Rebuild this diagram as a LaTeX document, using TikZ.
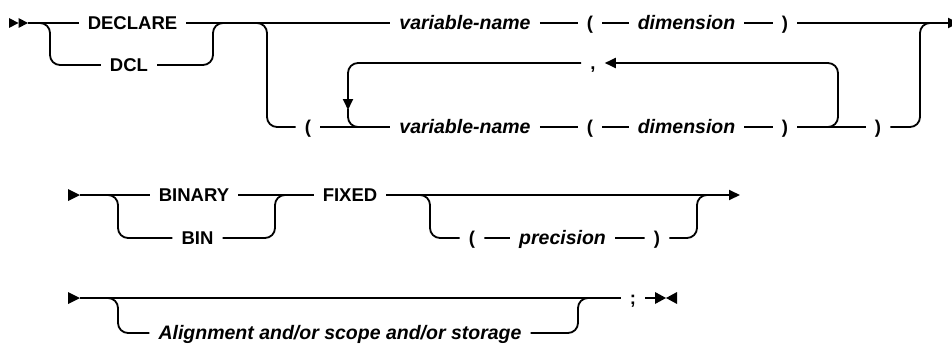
\documentclass[tikz,border=0pt]{standalone}
\usepackage{fontspec}
\setmainfont{Liberation Sans}
\usepackage{tikz}
\usetikzlibrary{arrows.meta}

\begin{document}
\begin{tikzpicture}[
    x=1pt, y=-1pt,
    rail/.style={line width=1.8pt, rounded corners=10pt},
    kw/.style={font=\bfseries\fontsize{18.5}{22}\selectfont, inner xsep=9pt, inner ysep=0pt, text height=13pt, text depth=0pt},
    var/.style={kw, font=\bfseries\itshape\fontsize{19.5}{23}\selectfont},
    arr/.style={-{Triangle[length=11pt, width=10pt]}}
]
    \clip (0,0) rectangle (952,345);

    % row 1: DECLARE / DCL and the variable list
    \fill (9,18) -- (18.5,23) -- (9,28) -- cycle;
    \fill (18.5,18) -- (28,23) -- (18.5,28) -- cycle;
    \coordinate (in1) at (28,23);
    \coordinate (sp1) at (50,23);
    \coordinate (jn1) at (213,23);
    \coordinate (sp2) at (267,23);
    \coordinate (lpL) at (348,127);
    \coordinate (lpR) at (838,127);
    \coordinate (jn2) at (920,23);
    \coordinate (out1) at (959,23);

    \node[kw] (declare) at (132.5,23) {DECLARE};
    \node[kw] (dcl) at (129,65) {DCL};
    \node[var] (varA) at (465,23) {variable-name};
    \node[kw] (lpA) at (590,23) {(};
    \node[var] (dimA) at (686.5,23) {dimension};
    \node[kw] (rpA) at (785,23) {)};
    \node[kw] (comma) at (593,63) {,};
    \node[kw] (lpB) at (308,127) {(};
    \node[var] (varB) at (465,127) {variable-name};
    \node[kw] (lpB2) at (590,127) {(};
    \node[var] (dimB) at (686.5,127) {dimension};
    \node[kw] (rpB) at (785,127) {)};
    \node[kw] (rpC) at (878,127) {)};

    \draw[rail] (in1) -- (declare);
    \draw[rail] (in1) -| (sp1 |- dcl) -- (dcl);
    \draw[rail] (dcl) -| (jn1) -- ++(12,0);
    \draw[rail] (declare) -- (varA) -- (lpA) -- (dimA) -- (rpA);
    \draw[rail, arr] (rpA) -- (out1);
    \draw[rail] ([xshift=-12pt]sp2) -| (sp2 |- lpB) -- (lpB);
    \draw[rail] (lpB) -- (varB) -- (lpB2) -- (dimB) -- (rpB) -- (rpC);
    \draw[rail, arr] ([xshift=-12pt]lpR) -| (lpR |- comma) -- (comma);
    \draw[rail, arr] (comma) -| ([yshift=17pt]lpL);
    \draw[rail] ([yshift=18pt]lpL) |- ([xshift=14pt]lpL);
    \draw[rail] (rpC) -| (jn2) -- ++(12,0);

    % row 2: BINARY / BIN FIXED (precision)
    \fill (68,189) -- (80,195) -- (68,201) -- cycle;
    \coordinate (in2) at (80,195);
    \coordinate (sp3) at (118,195);
    \coordinate (jn3) at (275,195);
    \coordinate (sp4) at (430,195);
    \coordinate (jn4) at (697,195);
    \coordinate (out2) at (740,195);

    \node[kw] (binary) at (194,195) {BINARY};
    \node[kw] (bin) at (197.5,238) {BIN};
    \node[kw] (fixed) at (350,195) {FIXED};
    \node[kw] (lpP) at (472,238) {(};
    \node[var] (prec) at (562.5,238) {precision};
    \node[kw] (rpP) at (657,238) {)};

    \draw[rail] (in2) -- (binary) -- (fixed);
    \draw[rail] (in2) -| (sp3 |- bin) -- (bin);
    \draw[rail] (bin) -| (jn3) -- ++(12,0);
    \draw[rail, arr] (fixed) -- (out2);
    \draw[rail] ([xshift=-12pt]sp4) -| (sp4 |- lpP) -- (lpP) -- (prec) -- (rpP);
    \draw[rail] (rpP) -| (jn4) -- ++(12,0);

    % row 3: optional attributes and end
    \fill (68,292) -- (80,298) -- (68,304) -- cycle;
    \coordinate (in3) at (80,298);
    \coordinate (sp5) at (118,298);
    \coordinate (jn5) at (578,298);
    \coordinate (stop) at (655,298);

    \node[var] (align) at (340,333) {Alignment and/or scope and/or storage};
    \node[kw] (semi) at (633,298) {;};

    \draw[rail] (in3) -- (semi);
    \draw[rail] (in3) -| (sp5 |- align) -- (align);
    \draw[rail] (align) -| (jn5) -- ++(12,0);
    \draw[rail] (semi) -- (stop);
    \fill (655,292) -- (666,298) -- (655,304) -- cycle;
    \fill (677,292) -- (666,298) -- (677,304) -- cycle;
\end{tikzpicture}
\end{document}
